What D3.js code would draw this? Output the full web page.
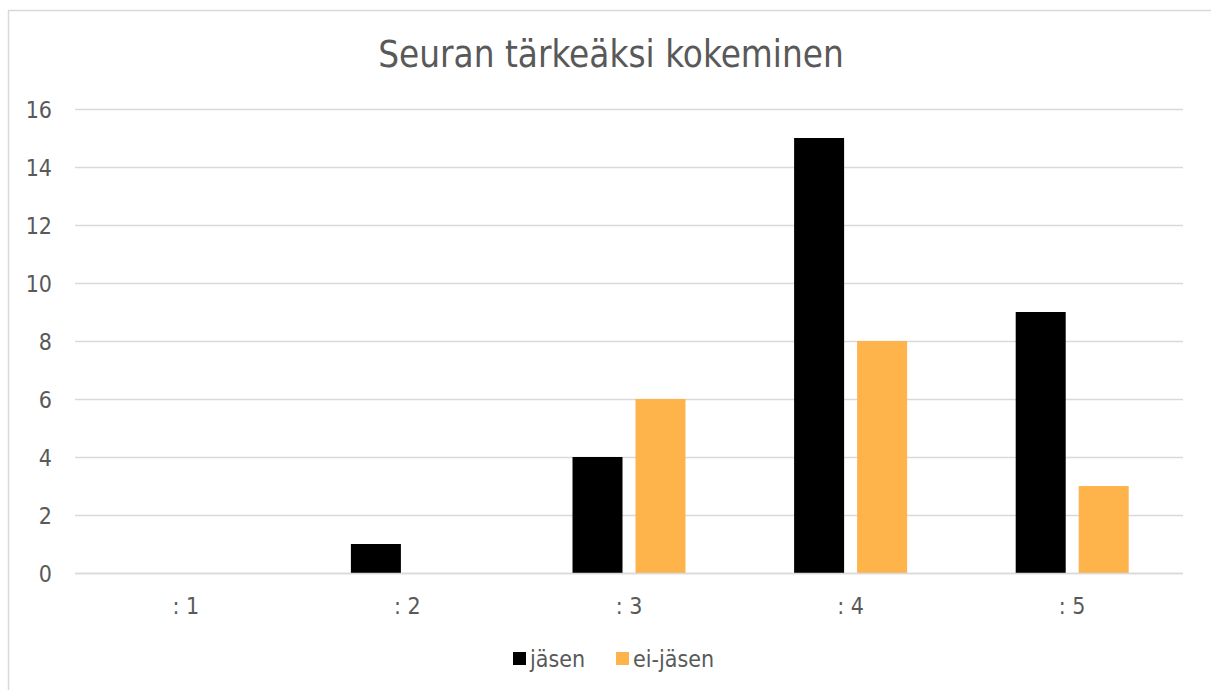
<!DOCTYPE html>
<html><head><meta charset="utf-8">
<script src="https://cdn.jsdelivr.net/npm/d3@7"></script>
<style>body{margin:0;background:#fff}svg{display:block}</style>
</head><body>
<script>
const categories = [": 1", ": 2", ": 3", ": 4", ": 5"];
const seriesNames = ["jäsen", "ei-jäsen"];
const jasen = [0, 1, 4, 15, 9];
const eiJasen = [0, 0, 6, 8, 3];
const yTicks = [0, 2, 4, 6, 8, 10, 12, 14, 16];
const colors = ["#000000", "#FFB34B"];

(function () {
const W = 1211, H = 690;
const font = "'DejaVu Sans Condensed', 'DejaVu Sans', Verdana, sans-serif";
const svg = d3.select("body").append("svg").attr("width", W).attr("height", H);

// chart border
svg.append("rect").attr("x", 8.5).attr("y", 10.5).attr("width", W + 20).attr("height", H + 20)
  .attr("fill", "#fff").attr("stroke", "#d9d9d9").attr("stroke-width", 1.5);

const mLeft = 75, mRight = 1183, mTop = 109, mBottom = 573;
const x = d3.scaleBand().domain(categories).range([mLeft, mRight]);
const y = d3.scaleLinear().domain([0, 16]).range([mBottom, mTop]);

// gridlines
svg.append("g").selectAll("line").data(yTicks).join("line")
  .attr("x1", mLeft).attr("x2", mRight)
  .attr("y1", d => Math.round(y(d)) + 0.5).attr("y2", d => Math.round(y(d)) + 0.5)
  .attr("stroke", "#d9d9d9").attr("stroke-width", 1.3);

// y tick labels
svg.append("g").selectAll("text").data(yTicks).join("text")
  .attr("x", 52).attr("y", d => y(d) + 8.5)
  .attr("text-anchor", "end").attr("font-family", font).attr("font-size", 23)
  .attr("fill", "#595959").text(d => d);

// bars
const barW = 50, gap = 13;
const series = [jasen, eiJasen];
series.forEach((vals, si) => {
  svg.append("g").selectAll("rect").data(vals).join("rect")
    .attr("x", (d, i) => x(categories[i]) + x.bandwidth() / 2 + (si === 0 ? -(gap / 2 + barW) : gap / 2))
    .attr("width", barW)
    .attr("y", d => y(d))
    .attr("height", d => y(0) - y(d))
    .attr("fill", colors[si]);
});

// x axis line
svg.append("line").attr("x1", mLeft).attr("x2", mRight)
  .attr("y1", Math.round(y(0)) + 0.5).attr("y2", Math.round(y(0)) + 0.5)
  .attr("stroke", "#d9d9d9").attr("stroke-width", 1.3);

// x labels
svg.append("g").selectAll("text").data(categories).join("text")
  .attr("x", d => x(d) + x.bandwidth() / 2).attr("y", 614)
  .attr("text-anchor", "middle").attr("font-family", font).attr("font-size", 23)
  .attr("fill", "#595959").text(d => d);

// title
svg.append("text").attr("x", 611).attr("y", 67).attr("text-anchor", "middle")
  .attr("font-family", font).attr("font-size", 36.5).attr("fill", "#595959")
  .text("Seuran tärkeäksi kokeminen");

// legend
const legendX = [513, 616];
seriesNames.forEach((n, i) => {
  svg.append("rect").attr("x", legendX[i]).attr("y", 652).attr("width", 13).attr("height", 13).attr("fill", colors[i]);
  svg.append("text").attr("x", legendX[i] + 17).attr("y", 667)
    .attr("font-family", font).attr("font-size", 23).attr("fill", "#595959").text(n);
});
})();
</script>
</body></html>
